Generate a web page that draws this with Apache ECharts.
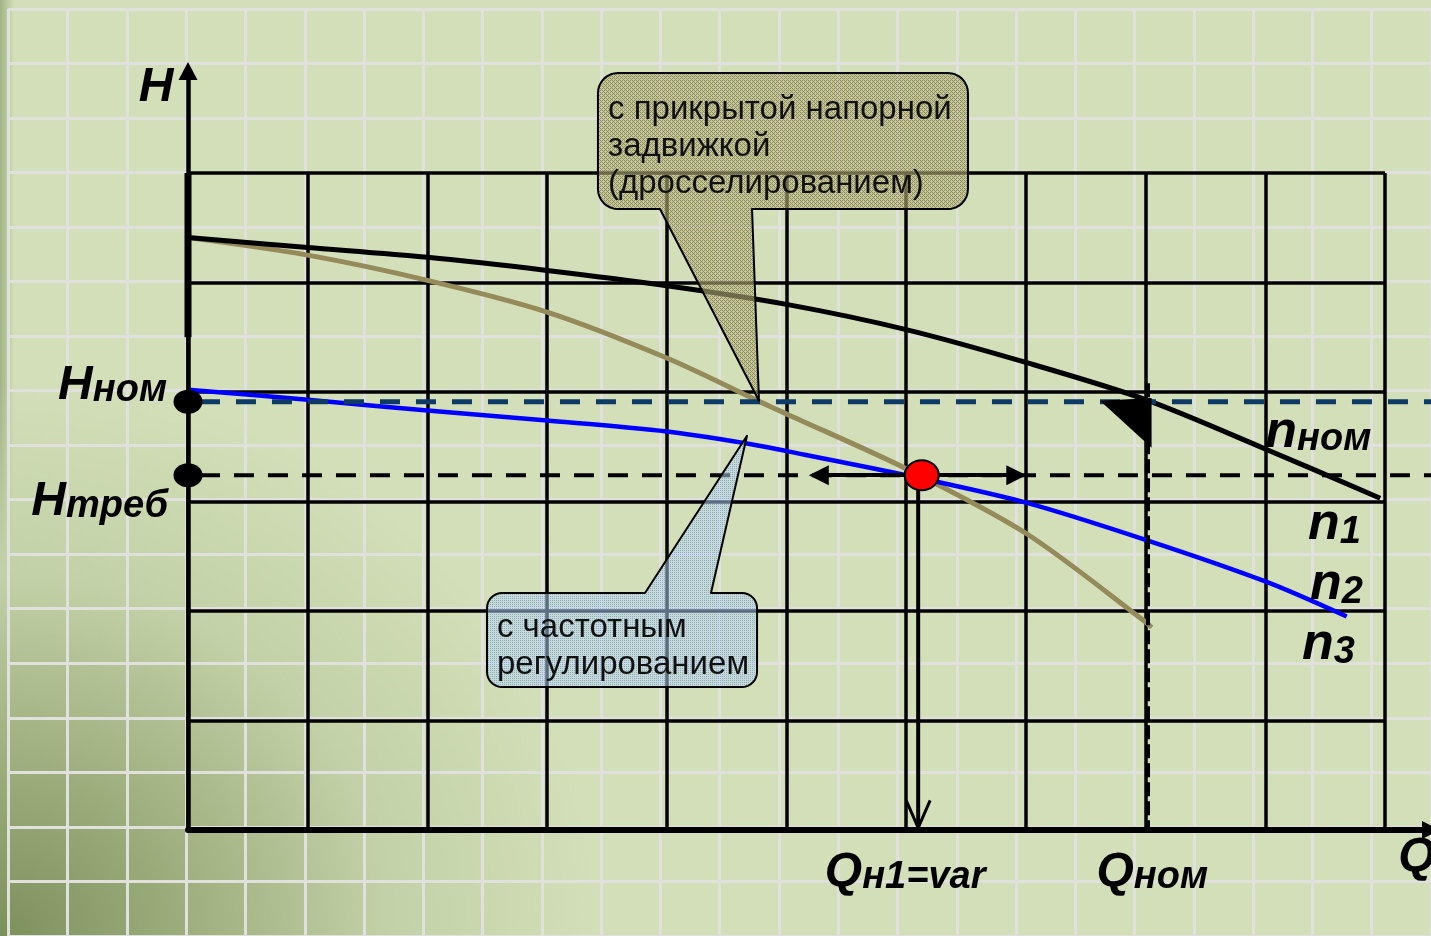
<!DOCTYPE html>
<html>
<head>
<meta charset="utf-8">
<title>Напорные характеристики насоса</title>
<script src="https://cdn.jsdelivr.net/npm/echarts@6/dist/echarts.min.js"></script>
<style>
  html, body { margin: 0; padding: 0; width: 1431px; height: 936px; overflow: hidden; }
  #chart {
    width: 1431px; height: 936px;
    background:
      radial-gradient(ellipse 600px 560px at 0% 100%, #7c905c 0%, #a2b282 35%, #c3d1a8 65%, rgba(210,223,184,0) 100%),
      linear-gradient(to right, rgba(140,160,110,0.7) 0px, rgba(210,223,184,0) 14px),
      #d2dfb8;
  }
</style>
</head>
<body>
<div id="chart"></div>
<script>
// H–Q characteristics of a pump: throttling with the discharge valve vs. speed (frequency) control.
// Flow Q runs in grid columns (0..10), head H in grid rows (0..6).

// Pump curve at nominal speed n_ном
const curveNomQ = [0, 1, 2, 3, 4, 5, 6, 7, 8, 9, 9.96];
const curveNomH = [5.41, 5.32, 5.23, 5.11, 4.97, 4.80, 4.57, 4.27, 3.93, 3.48, 3.03];

// Characteristic with partly closed discharge valve (throttling)
const curveThrottleQ = [0, 1, 2, 3, 4, 4.78, 5, 6, 7, 8, 8.05];
const curveThrottleH = [5.41, 5.25, 5.02, 4.73, 4.31, 3.91, 3.80, 3.30, 2.71, 1.90, 1.85];

// Characteristic with frequency control (reduced speed)
const curveFreqQ = [0, 1, 2, 3, 4, 4.67, 5, 6, 7, 8, 9, 9.68];
const curveFreqH = [4.02, 3.93, 3.83, 3.74, 3.64, 3.53, 3.46, 3.24, 2.99, 2.65, 2.27, 1.95];

// Characteristic levels
const H_NOM = 3.91;     // nominal head
const H_REQ = 3.24;     // required head
const Q_N1 = 6.10;      // flow at the required head
const Q_NOM = 8.02;     // nominal flow
const Q_POINT = 6.13;   // operating point on the required head line

// Axis ranges (grid cells)
const Q_MIN = 0, Q_MAX = 10, Q_STEP = 1;
const H_MIN = 0, H_MAX = 6, H_STEP = 1;

const FONT = '"Liberation Sans", Arial, Helvetica, sans-serif';

function zip(xs, ys) { return xs.map((x, i) => [x, ys[i]]); }

// small repeating fill textures for the callouts
function makePattern(base, dot, cells) {
  const c = document.createElement('canvas');
  c.width = 4; c.height = 4;
  const g = c.getContext('2d');
  g.fillStyle = base; g.fillRect(0, 0, 4, 4);
  g.fillStyle = dot;
  cells.forEach(([x, y]) => g.fillRect(x, y, 1, 1));
  return { image: c, repeat: 'repeat' };
}
const khakiFill = makePattern('rgba(190,185,130,0.6)', 'rgba(95,90,52,0.55)',
  [[0, 0], [1, 1], [0, 2], [2, 2], [3, 3], [2, 0]]);
const blueFill = makePattern('rgba(190,214,236,0.5)', 'rgba(70,125,205,0.5)',
  [[0, 0], [2, 0], [0, 2], [2, 2]]);

// Callout layout (axis units); line gaps in px
const callouts = [
  {
    box: [[3.425, 6.913], [6.516, 5.671]], radius: 20,
    tail: { side: 'bottom', from: 3.943, to: 4.712, tip: [4.77, 3.92] },
    fill: khakiFill,
    lines: ['с прикрытой напорной', 'задвижкой', '(дросселированием)'],
    textAt: [3.509, 6.58], lineGap: 37
  },
  {
    box: [[2.498, 2.164], [4.754, 1.306]], radius: 15,
    tail: { side: 'top', from: 3.818, to: 4.369, tip: [4.67, 3.60] },
    fill: blueFill,
    lines: ['с частотным', 'регулированием'],
    textAt: [2.581, 1.85], lineGap: 37
  }
];

// Axis / curve labels (anchor in axis units)
const labels = [
  { big: 'H', small: '', at: [-0.267, 6.78], align: 'center', bigSize: 48 },
  { big: 'H', small: 'ном', at: [-0.175, 4.06], align: 'right', bigSize: 48 },
  { big: 'H', small: 'треб', at: [-0.167, 3.00], align: 'right', bigSize: 48 },
  { big: 'Q', small: 'н1=var', at: [5.32, -0.39], align: 'left', bigSize: 48 },
  { big: 'Q', small: 'ном', at: [7.59, -0.39], align: 'left', bigSize: 48 },
  { big: 'Q', small: '', at: [10.11, -0.25], align: 'left', bigSize: 48 },
  { big: 'n', small: 'ном', at: [9.0, 3.63], align: 'left', bigSize: 52 },
  { big: 'n', small: '1', at: [9.357, 2.785], align: 'left', bigSize: 52 },
  { big: 'n', small: '2', at: [9.373, 2.237], align: 'left', bigSize: 52 },
  { big: 'n', small: '3', at: [9.307, 1.689], align: 'left', bigSize: 52 }
];

// Guide lines (axis units) with their strokes
const guides = [
  { pts: [[0.1, H_NOM], [10.6, H_NOM]], color: '#0d3b66', width: 5, dash: [20, 16] },
  { pts: [[0.1, H_REQ], [10.6, H_REQ]], color: '#000', width: 4, dash: [20, 14] },
  { pts: [[Q_NOM, 4.08], [Q_NOM, 0]], color: '#000', width: 4, dash: [14, 5] },
  { pts: [[0, 4.5], [0, H_MAX]], color: '#000', width: 7, dash: null },
  { pts: [[Q_N1, 3.11], [Q_N1, 0.02]], color: '#000', width: 4, dash: null },
  { pts: [[Q_N1 - 0.1, 0.27], [Q_N1, 0.02], [Q_N1 + 0.1, 0.27]], color: '#000', width: 3, dash: null }
];

// Arrow head at the nominal flow line
const nomMarkerQ = [7.62, 8.05, 8.05];
const nomMarkerH = [3.92, 3.945, 3.49];

function calloutPoints(x0, y0, x1, y1, r, tail) {
  const pts = [];
  const arc = (cx, cy, a0, a1) => {
    for (let k = 0; k <= 8; k++) {
      const a = a0 + (a1 - a0) * k / 8;
      pts.push([cx + r * Math.cos(a), cy + r * Math.sin(a)]);
    }
  };
  arc(x0 + r, y0 + r, Math.PI, 1.5 * Math.PI);
  if (tail.side === 'top') pts.push([tail.from, y0], tail.tip, [tail.to, y0]);
  arc(x1 - r, y0 + r, 1.5 * Math.PI, 2 * Math.PI);
  arc(x1 - r, y1 - r, 0, 0.5 * Math.PI);
  if (tail.side === 'bottom') pts.push([tail.to, y1], tail.tip, [tail.from, y1]);
  arc(x0 + r, y1 - r, 0.5 * Math.PI, Math.PI);
  return pts;
}

const chart = echarts.init(document.getElementById('chart'), null, { renderer: 'canvas' });

const hiddenAxis = {
  axisLine: { show: false }, axisTick: { show: false }, axisLabel: { show: false }
};

const option = {
  backgroundColor: 'transparent',
  animation: false,
  grid: [
    { left: 188, top: 173, width: 1197, height: 657 },          // main diagram
    { left: 188, top: 71, width: 1245, height: 759 },            // arrowed axes
    { left: 8.45, top: 8.75, width: 1436.4, height: 930.75 }     // squared paper
  ],
  xAxis: [
    Object.assign({ gridIndex: 0, type: 'value', min: Q_MIN, max: Q_MAX, interval: Q_STEP, z: 1,
      splitLine: { show: true, lineStyle: { color: '#000', width: 3.5 } } }, hiddenAxis),
    { gridIndex: 1, type: 'value', min: 0, max: 1, z: 4,
      axisLine: { show: true, onZero: false, symbol: ['none', 'triangle'], symbolSize: [18, 18],
        lineStyle: { color: '#000', width: 6 } },
      axisTick: { show: false }, axisLabel: { show: false }, splitLine: { show: false } },
    Object.assign({ gridIndex: 2, type: 'value', min: -1.5, max: 10.5, interval: 0.5, z: 0,
      splitLine: { show: true, lineStyle: { color: '#e0e0dc', width: 3 } } }, hiddenAxis)
  ],
  yAxis: [
    Object.assign({ gridIndex: 0, type: 'value', min: H_MIN, max: H_MAX, interval: H_STEP, z: 1,
      splitLine: { show: true, lineStyle: { color: '#000', width: 3.5 } } }, hiddenAxis),
    { gridIndex: 1, type: 'value', min: 0, max: 1, z: 4,
      axisLine: { show: true, onZero: false, symbol: ['none', 'triangle'], symbolSize: [19, 18],
        lineStyle: { color: '#000', width: 4.5 } },
      axisTick: { show: false }, axisLabel: { show: false }, splitLine: { show: false } },
    Object.assign({ gridIndex: 2, type: 'value', min: -1, max: 7.5, interval: 0.5, z: 0,
      splitLine: { show: true, lineStyle: { color: '#e0e0dc', width: 3 } } }, hiddenAxis)
  ],
  series: [
    // throttling curve
    { name: 'throttle', type: 'line', xAxisIndex: 0, yAxisIndex: 0, smooth: 0.3, symbol: 'none', z: 3,
      data: zip(curveThrottleQ, curveThrottleH), lineStyle: { color: '#958a5a', width: 5 } },
    // nominal speed curve
    { name: 'nom', type: 'line', xAxisIndex: 0, yAxisIndex: 0, smooth: 0.3, symbol: 'none', z: 3,
      data: zip(curveNomQ, curveNomH), lineStyle: { color: '#000', width: 5 } },
    // frequency controlled curve
    { name: 'freq', type: 'line', xAxisIndex: 0, yAxisIndex: 0, smooth: 0.3, symbol: 'none', z: 3,
      data: zip(curveFreqQ, curveFreqH), lineStyle: { color: '#0000ff', width: 4.5 } },
    // head / flow guide lines
    { type: 'custom', coordinateSystem: 'cartesian2d', xAxisIndex: 0, yAxisIndex: 0, z: 4, silent: true,
      data: guides.map((g, i) => i),
      renderItem: (params, api) => {
        const g = guides[params.dataIndex];
        return {
          type: 'polyline',
          shape: { points: g.pts.map(p => api.coord(p)) },
          style: { stroke: g.color, lineWidth: g.width, lineDash: g.dash || null, fill: null }
        };
      } },
    // arrows from the operating point
    { type: 'lines', coordinateSystem: 'cartesian2d', xAxisIndex: 0, yAxisIndex: 0, clip: false, z: 5,
      symbol: ['none', 'triangle'], symbolSize: 20,
      lineStyle: { color: '#000', width: 4, opacity: 1, curveness: 0 },
      data: [
        { coords: [[Q_POINT, H_REQ], [5.27, H_REQ]] },
        { coords: [[Q_POINT, H_REQ], [6.92, H_REQ]] }
      ] },
    // arrow head at the nominal point
    { type: 'custom', coordinateSystem: 'cartesian2d', xAxisIndex: 0, yAxisIndex: 0, z: 6, silent: true,
      data: [0],
      renderItem: (params, api) => ({
        type: 'polygon',
        shape: { points: zip(nomMarkerQ, nomMarkerH).map(p => api.coord(p)) },
        style: { fill: '#000' }
      }) },
    // points on the H axis
    { type: 'scatter', xAxisIndex: 0, yAxisIndex: 0, clip: false, z: 6, silent: true,
      symbol: 'circle', symbolSize: [29, 24], itemStyle: { color: '#000', opacity: 1 },
      data: [[0, H_NOM], [0, H_REQ]] },
    // operating point
    { type: 'scatter', xAxisIndex: 0, yAxisIndex: 0, clip: false, z: 7, silent: true,
      symbol: 'circle', symbolSize: [34, 30],
      itemStyle: { color: '#ff0000', borderColor: '#000', borderWidth: 2, opacity: 1 },
      data: [[Q_POINT, H_REQ]] },
    // callouts
    { type: 'custom', coordinateSystem: 'cartesian2d', xAxisIndex: 0, yAxisIndex: 0, z: 8, silent: true,
      data: callouts.map((c, i) => i),
      renderItem: (params, api) => {
        const c = callouts[params.dataIndex];
        const a = api.coord(c.box[0]), b = api.coord(c.box[1]);
        const tip = api.coord(c.tail.tip);
        const tf = api.coord([c.tail.from, 0])[0], tt = api.coord([c.tail.to, 0])[0];
        const pts = calloutPoints(a[0], a[1], b[0], b[1], c.radius,
          { side: c.tail.side, from: tf, to: tt, tip: tip });
        const t0 = api.coord(c.textAt);
        const children = [{
          type: 'polygon', shape: { points: pts },
          style: { fill: c.fill, stroke: '#000', lineWidth: 2, lineJoin: 'round' }
        }];
        c.lines.forEach((ln, k) => children.push({
          type: 'text',
          style: { text: ln, x: t0[0], y: t0[1] + k * c.lineGap, fill: '#111',
            fontSize: 33, fontFamily: FONT, align: 'left', verticalAlign: 'middle' }
        }));
        return { type: 'group', children };
      } },
    // labels
    { type: 'custom', coordinateSystem: 'cartesian2d', xAxisIndex: 0, yAxisIndex: 0, z: 9, silent: true,
      data: labels.map((l, i) => i),
      renderItem: (params, api) => {
        const l = labels[params.dataIndex];
        const p = api.coord(l.at);
        const text = '{b|' + l.big + '}' + (l.small ? '{s|' + l.small + '}' : '');
        return {
          type: 'text',
          style: {
            text, x: p[0], y: p[1], align: l.align, verticalAlign: 'middle',
            rich: {
              b: { fontSize: l.bigSize, lineHeight: l.bigSize, fontWeight: 'bold', fontStyle: 'italic',
                fontFamily: FONT, fill: '#000', verticalAlign: 'bottom' },
              s: { fontSize: 38, lineHeight: 38, fontWeight: 'bold', fontStyle: 'italic',
                fontFamily: FONT, fill: '#000', verticalAlign: 'bottom' }
            }
          }
        };
      } }
  ]
};

chart.setOption(option);
</script>
</body>
</html>
